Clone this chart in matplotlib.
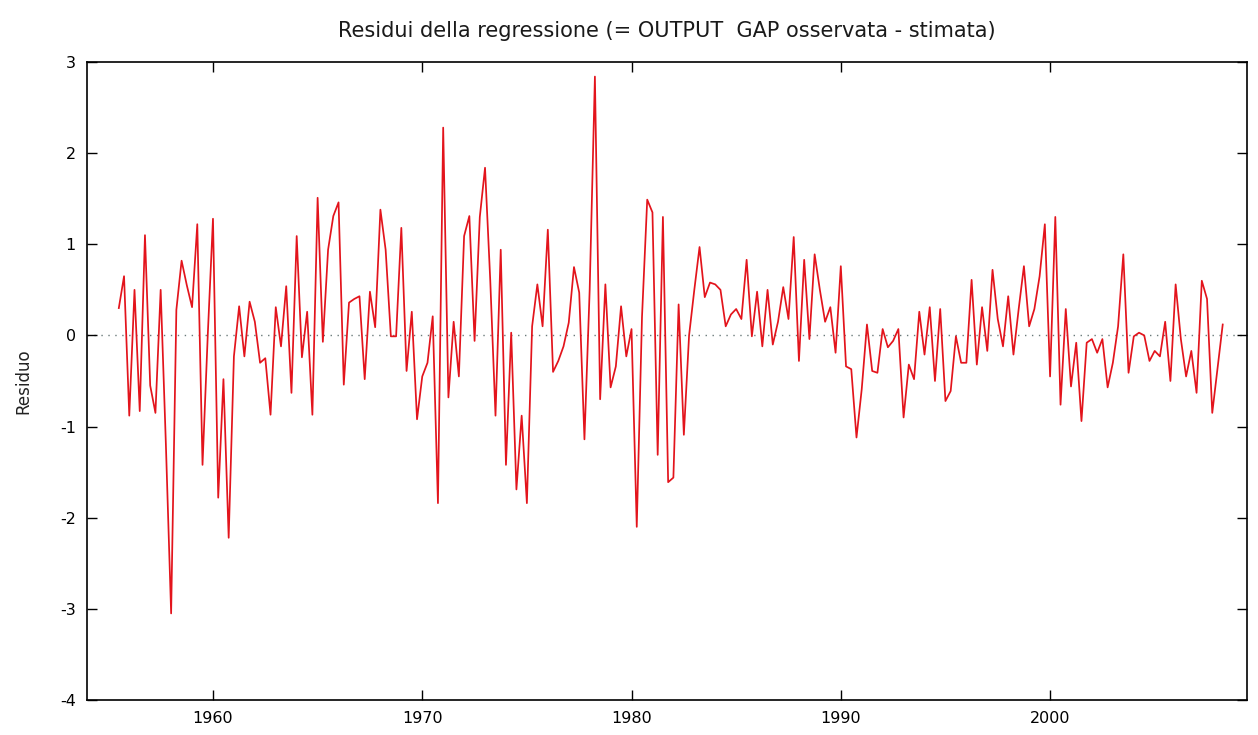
import numpy as np
import matplotlib
matplotlib.use("Agg")
import matplotlib.pyplot as plt

# Quarterly residuals, 1955:3 - 2008:2
first_year = 1955
first_quarter = 3

res_1950s = [0.30, 0.65,
             -0.88, 0.50, -0.83, 1.10,
             -0.55, -0.85, 0.50, -1.20,
             -3.05, 0.28, 0.82, 0.55,
             0.31, 1.22, -1.42, 0.00]
res_1960s = [1.28, -1.78, -0.48, -2.22,
             -0.23, 0.32, -0.23, 0.37,
             0.15, -0.30, -0.25, -0.87,
             0.31, -0.12, 0.54, -0.63,
             1.09, -0.24, 0.26, -0.87,
             1.51, -0.07, 0.94, 1.31,
             1.46, -0.54, 0.36, 0.40,
             0.43, -0.48, 0.48, 0.09,
             1.38, 0.94, -0.01, -0.01,
             1.18, -0.39, 0.26, -0.92]
res_1970s = [-0.45, -0.30, 0.21, -1.84,
             2.28, -0.68, 0.15, -0.45,
             1.09, 1.31, -0.06, 1.30,
             1.84, 0.60, -0.88, 0.94,
             -1.42, 0.03, -1.69, -0.88,
             -1.84, 0.10, 0.56, 0.10,
             1.16, -0.40, -0.28, -0.12,
             0.14, 0.75, 0.47, -1.14,
             0.50, 2.84, -0.70, 0.56,
             -0.57, -0.34, 0.32, -0.23]
res_1980s = [0.07, -2.10, 0.20, 1.49,
             1.35, -1.31, 1.30, -1.61,
             -1.56, 0.34, -1.09, 0.00,
             0.50, 0.97, 0.42, 0.58,
             0.56, 0.50, 0.10, 0.23,
             0.29, 0.18, 0.83, -0.01,
             0.48, -0.12, 0.50, -0.10,
             0.15, 0.53, 0.18, 1.08,
             -0.28, 0.83, -0.04, 0.89,
             0.50, 0.15, 0.31, -0.19]
res_1990s = [0.76, -0.34, -0.37, -1.12,
             -0.59, 0.12, -0.39, -0.41,
             0.07, -0.13, -0.06, 0.07,
             -0.90, -0.32, -0.48, 0.26,
             -0.21, 0.31, -0.50, 0.29,
             -0.72, -0.61, -0.01, -0.30,
             -0.30, 0.61, -0.32, 0.31,
             -0.17, 0.72, 0.18, -0.12,
             0.43, -0.21, 0.29, 0.76,
             0.10, 0.29, 0.65, 1.22]
res_2000s = [-0.45, 1.30, -0.76, 0.29,
             -0.56, -0.08, -0.94, -0.08,
             -0.04, -0.19, -0.04, -0.57,
             -0.30, 0.10, 0.89, -0.41,
             -0.01, 0.03, 0.00, -0.28,
             -0.17, -0.23, 0.15, -0.50,
             0.56, -0.04, -0.45, -0.17,
             -0.63, 0.60, 0.40, -0.85,
             -0.37, 0.12]

residuo = np.array(res_1950s + res_1960s + res_1970s + res_1980s
                   + res_1990s + res_2000s)
periods = first_year + (first_quarter - 1) / 4 + np.arange(len(residuo)) / 4

title = "Residui della regressione (= OUTPUT  GAP osservata - stimata)"
ylabel = "Residuo"
xticks = [1960, 1970, 1980, 1990, 2000]
yticks = [-4, -3, -2, -1, 0, 1, 2, 3]

plt.rcParams["font.family"] = ["DejaVu Sans"]

fig = plt.figure(figsize=(12.58, 7.35), dpi=100)
ax = fig.add_axes([87 / 1258, 1 - 700 / 735, (1247 - 87) / 1258, (700 - 62) / 735])

ax.axhline(0, color="#6a7a7a", lw=1.0, ls=(0, (1, 4)), zorder=1)
ax.plot(periods, residuo, color="#e3141c", lw=1.25, zorder=2)

ax.set_xlim(1953.98, 2009.41)
ax.set_ylim(-4, 3)
ax.set_xticks(xticks)
ax.set_yticks(yticks)
ax.set_yticklabels([str(t) for t in yticks])

ax.tick_params(direction="in", length=7, width=1.0, top=True, right=True,
               labelsize=11.5, colors="black", pad=8)
for s in ax.spines.values():
    s.set_linewidth(1.2)
    s.set_color("black")

ax.set_title(title, fontsize=15, pad=18, color="#1a1a1a")
ax.set_ylabel(ylabel, fontsize=12, labelpad=20, color="#222222")

fig.savefig("out.png", dpi=100, facecolor="white")
